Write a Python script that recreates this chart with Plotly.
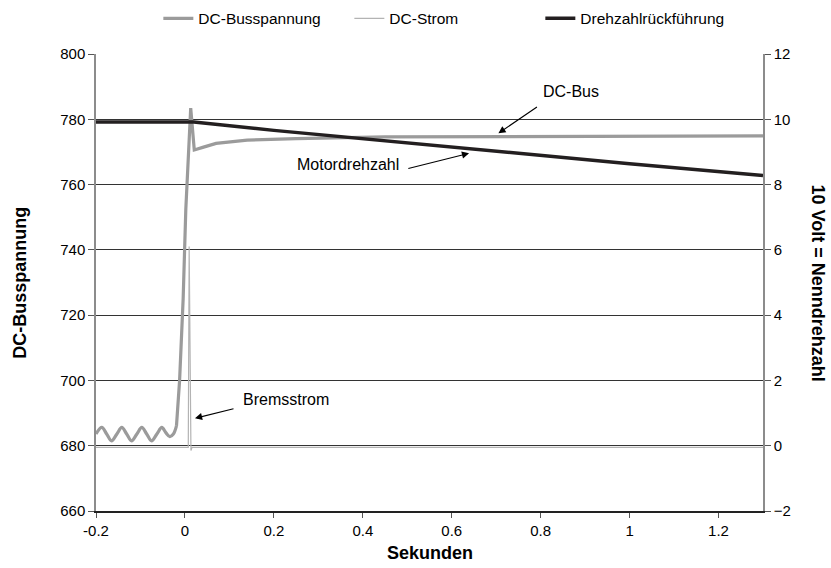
import plotly.graph_objects as go

# ---- data -------------------------------------------------------------
# DC bus voltage (left axis, V): ripple before braking, then the jump
t_bus_ripple = [-0.2, -0.187, -0.176, -0.165, -0.153, -0.142, -0.131, -0.120,
                -0.108, -0.097, -0.086, -0.075, -0.063, -0.052, -0.043, -0.034,
                -0.026, -0.019]
v_bus_ripple = [683.6, 685.6, 683.6, 681.5, 683.6, 685.6, 683.6, 681.5,
                683.6, 685.6, 683.6, 681.5, 683.6, 685.6, 684.0, 682.8,
                683.6, 686.1]
t_bus = [-0.019, -0.012, -0.004, 0.002, 0.013, 0.021, 0.04, 0.07, 0.14,
         0.25, 0.45, 0.8, 1.3]
v_bus = [686.1, 700.0, 725.0, 752.5, 783.4, 770.6, 771.4, 772.6, 773.6,
         774.1, 774.6, 774.8, 774.9]

# DC current (right axis)
t_strom = [-0.2, 0.0075, 0.0095, 0.0135, 0.016, 1.3]
v_strom = [-0.05, -0.05, 6.1, -0.15, -0.05, -0.05]

# Speed feedback (right axis, 10 V = rated speed)
t_speed = [-0.2, 0.02, 0.2, 0.4, 0.6, 0.8, 1.0, 1.3]
v_speed = [9.92, 9.92, 9.66, 9.40, 9.14, 8.88, 8.64, 8.28]

x_ticks = [-0.2, 0, 0.2, 0.4, 0.6, 0.8, 1, 1.2]
x_ticklabels = ["-0.2", "0", "0.2", "0.4", "0.6", "0.8", "1", "1.2"]
y_left_ticks = [660, 680, 700, 720, 740, 760, 780, 800]
y_right_ticks = [-2, 0, 2, 4, 6, 8, 10, 12]

FONT = "Liberation Sans, Arial, sans-serif"
GRAY = "#9b9b9b"
LIGHT = "#b3b3b3"
DARK = "#231f20"

fig = go.Figure()

fig.add_trace(go.Scatter(
    x=t_speed, y=v_speed, yaxis="y2", mode="lines", name="Drehzahlrückführung",
    line=dict(color=DARK, width=3.5), legendrank=3))
fig.add_trace(go.Scatter(
    x=t_strom, y=v_strom, yaxis="y2", mode="lines", name="DC-Strom",
    line=dict(color=LIGHT, width=1.2), legendrank=2))
fig.add_trace(go.Scatter(
    x=t_bus_ripple, y=v_bus_ripple, mode="lines", name="DC-Busspannung",
    line=dict(color=GRAY, width=3.2, shape="spline", smoothing=1.0),
    legendgroup="bus", showlegend=False))
fig.add_trace(go.Scatter(
    x=t_bus, y=v_bus, mode="lines", name="DC-Busspannung",
    line=dict(color=GRAY, width=3.2), legendgroup="bus", legendrank=1))

# ---- callouts ---------------------------------------------------------
arrow = dict(showarrow=True, arrowhead=2, arrowsize=1.3, arrowwidth=1.1,
             arrowcolor="#000", text="", xref="x", yref="y", axref="x", ayref="y")
fig.add_annotation(x=0.705, y=775.7, ax=0.795, ay=784.1, **arrow)
fig.add_annotation(x=0.639, y=769.6, ax=0.499, ay=764.8, **arrow)
fig.add_annotation(x=0.0226, y=688.4, ax=0.1126, ay=691.45, **arrow)

label = dict(showarrow=False, xref="x", yref="y", font=dict(family=FONT, size=16, color="#000"))
fig.add_annotation(x=0.868, y=788.4, text="DC-Bus", xanchor="center", **label)
fig.add_annotation(x=0.486, y=766.3, text="Motordrehzahl", xanchor="right", **label)
fig.add_annotation(x=0.127, y=694.3, text="Bremsstrom", xanchor="left", **label)

# axis titles
title_font = dict(family=FONT, size=18, color="#000")
fig.add_annotation(x=-0.115, y=0.5, xref="paper", yref="paper", text="<b>DC-Busspannung</b>",
                   textangle=-90, showarrow=False, font=title_font,
                   xanchor="center", yanchor="middle")
fig.add_annotation(x=1.0825, y=0.5, xref="paper", yref="paper", text="<b>10 Volt = Nenndrehzahl</b>",
                   textangle=90, showarrow=False, font=title_font,
                   xanchor="center", yanchor="middle")
fig.add_annotation(x=0.5, y=-0.092, xref="paper", yref="paper", text="<b>Sekunden</b>",
                   showarrow=False, font=title_font, xanchor="center", yanchor="middle")

fig.update_layout(
    width=831, height=568,
    margin=dict(l=96, r=68, t=54, b=57, autoexpand=False),
    paper_bgcolor="white", plot_bgcolor="white",
    font=dict(family=FONT, size=15, color="#000"),
    showlegend=True,
    legend=dict(orientation="h", x=0.523, xanchor="center", y=1.04, yanchor="bottom",
                font=dict(family=FONT, size=15.5), entrywidth=146, entrywidthmode="pixels",
                traceorder="normal", itemwidth=30),
    xaxis=dict(range=[-0.2, 1.3], tickvals=x_ticks, ticktext=x_ticklabels,
               showgrid=False, zeroline=False, showline=True, linecolor="#222",
               linewidth=1.5, ticks="outside", ticklen=5, tickcolor="#555"),
    yaxis=dict(range=[660, 800], tickvals=y_left_ticks, showgrid=True,
               gridcolor="#333", gridwidth=1, zeroline=False, showline=True,
               linecolor="#8c8c8c", linewidth=1.5, ticks="outside", ticklen=6,
               tickcolor="#555"),
    yaxis2=dict(range=[-2, 12], tickvals=y_right_ticks, overlaying="y", side="right",
                showgrid=False, zeroline=False, showline=True, linecolor="#8c8c8c",
                linewidth=1.5, ticks="outside", ticklen=6, tickcolor="#555"),
)

fig.write_html("out.html")
